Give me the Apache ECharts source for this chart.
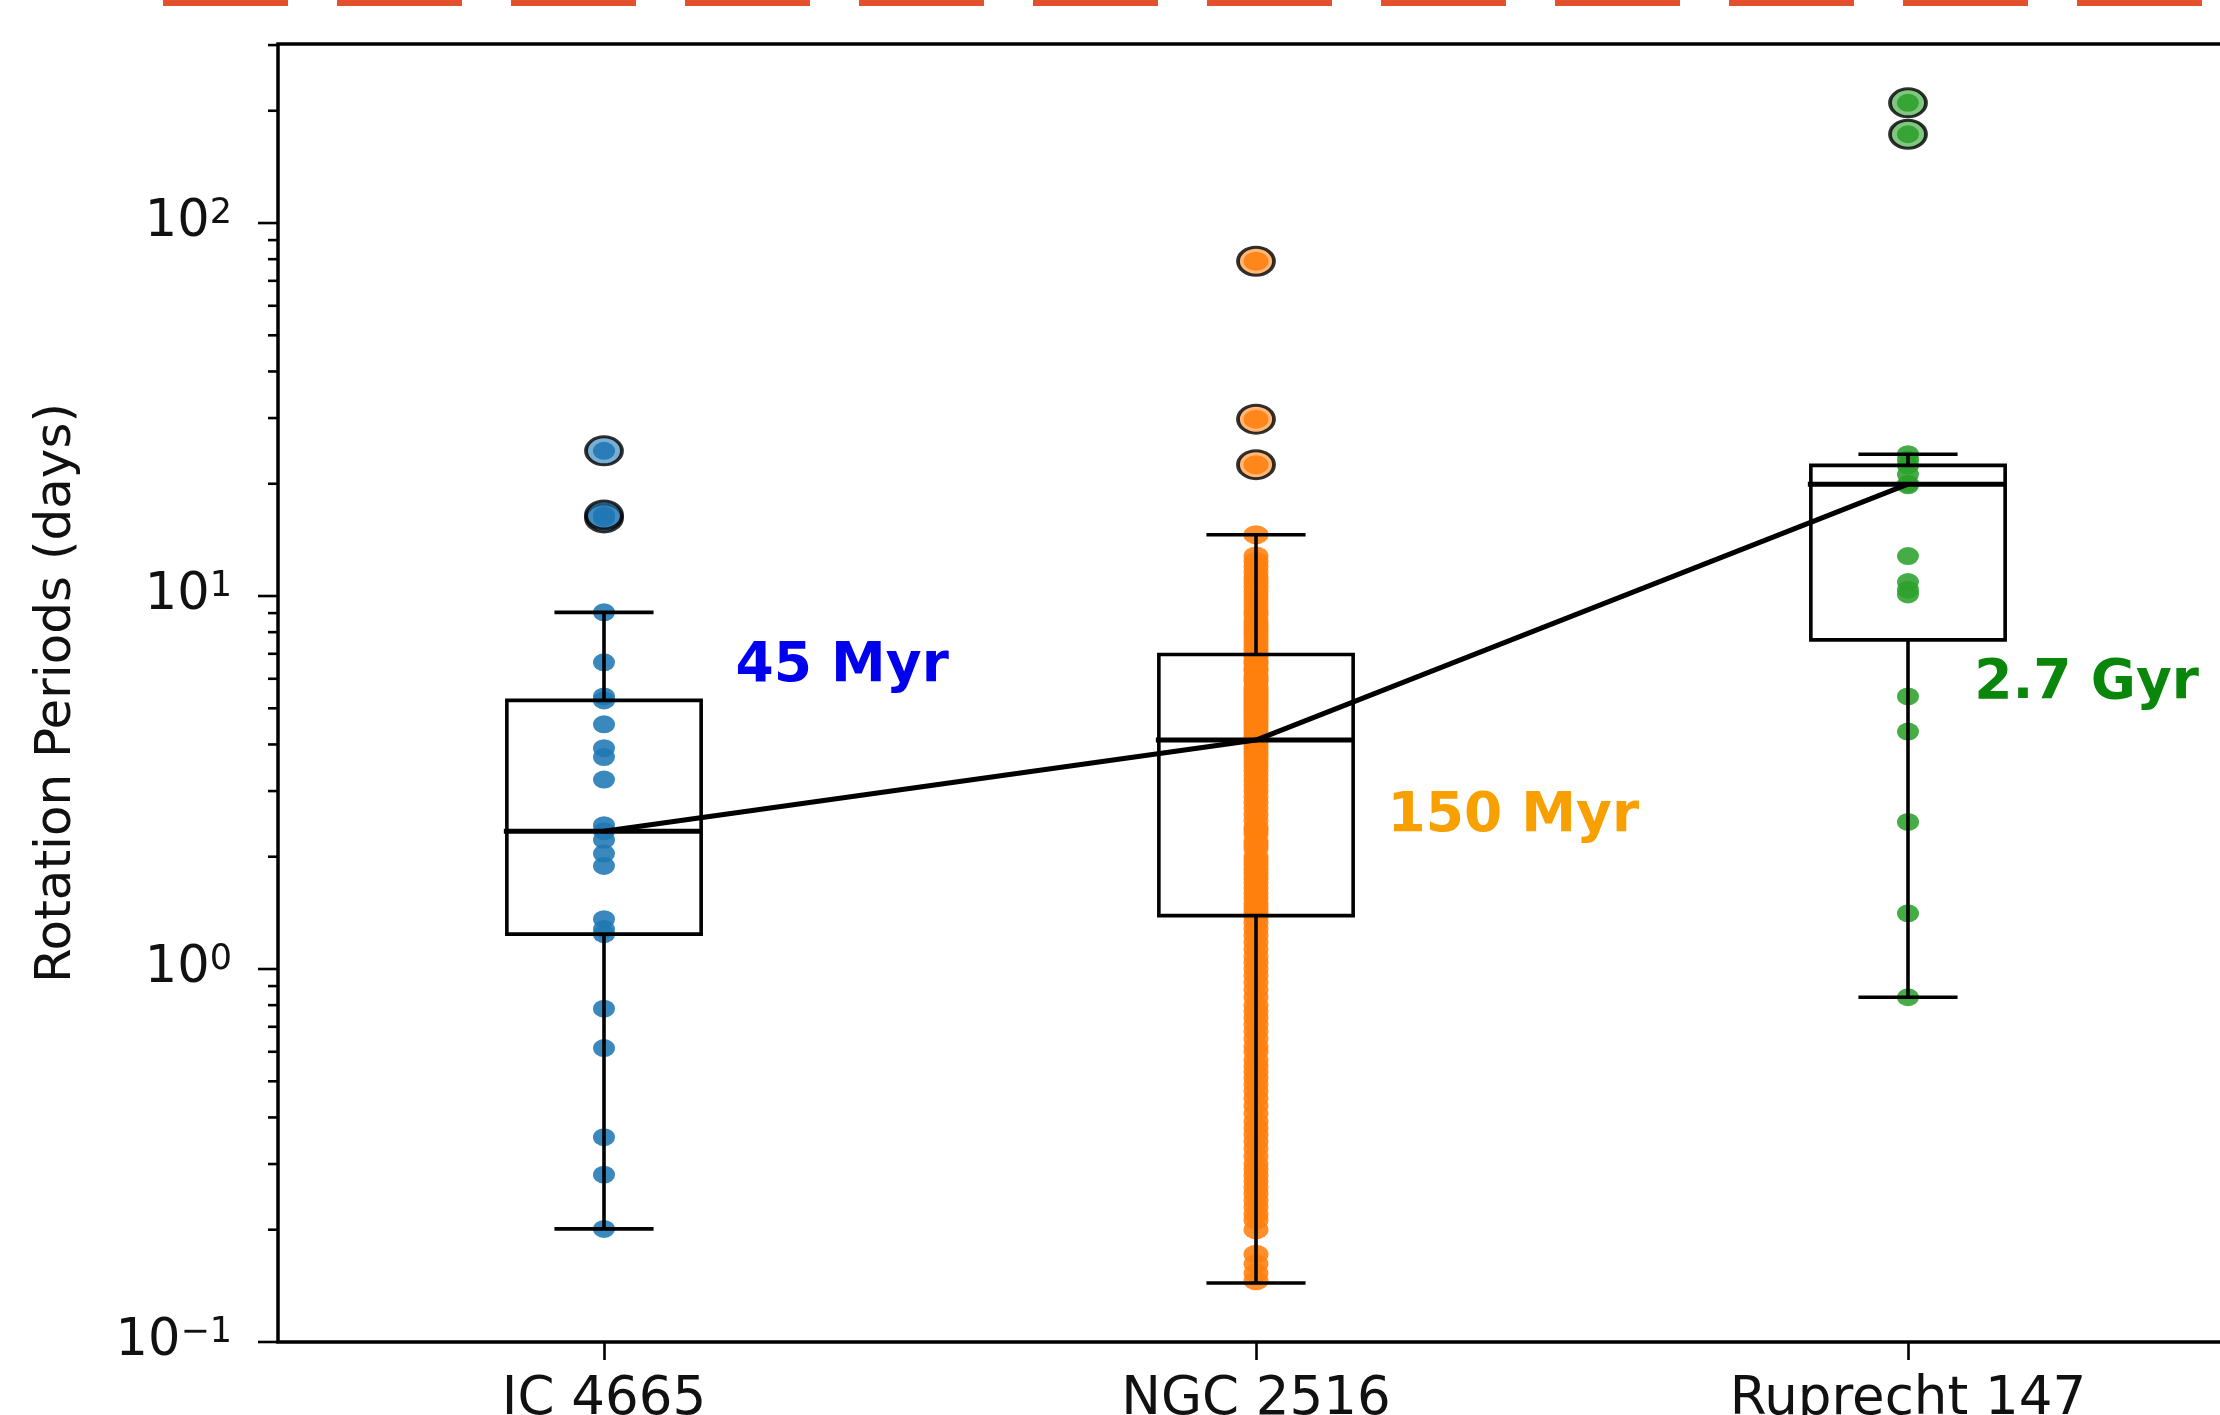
<!DOCTYPE html>
<html>
<head>
<meta charset="utf-8">
<title>Rotation periods</title>
<script src="https://cdn.jsdelivr.net/npm/echarts@6/dist/echarts.min.js"></script>
<style>
  html, body { margin: 0; padding: 0; background: #fff; }
  #chart { width: 2220px; height: 1415px; }
</style>
</head>
<body>
<div id="chart"></div>
<script>
const clusters = ['IC 4665', 'NGC 2516', 'Ruprecht 147']
const ages = ['45 Myr', '150 Myr', '2.7 Gyr']
const ageColors = ['#0000ee', '#f8a000', '#0a860a']
const dotColors = ['#1f77b4', '#ff7f0e', '#2ca02c']
const flierFill = ['rgba(31,119,180,0.75)', 'rgba(255,127,14,0.7)', 'rgba(44,160,44,0.75)']

// rotation periods (days)
const ic4665 = [24.5, 16.2, 16.5, 9.04, 6.64, 5.38, 5.25, 4.53, 3.91, 3.70, 3.22, 2.43, 2.34, 2.22,
  2.04, 1.89, 1.36, 1.28, 1.24, 0.783, 0.614, 0.354, 0.281, 0.201]
const ngc2516 = [79, 29.8, 22.5, 14.6, 12.8, 12.4, 12.0, 11.6, 11.2, 10.9, 10.6, 10.3, 10.0, 9.7, 9.4,
  9.1, 8.9, 8.6, 8.4, 8.2, 8.0, 7.8, 7.6, 7.4, 7.2, 7.0, 6.9, 6.7, 6.6, 6.4, 6.3, 6.1, 6.0, 5.9, 5.7,
  5.6, 5.5, 5.4, 5.3, 5.2, 5.1, 5.0, 4.9, 4.8, 4.7, 4.6, 4.5, 4.4, 4.3, 4.2, 4.1, 4.0, 3.9, 3.8, 3.7,
  3.6, 3.5, 3.4, 3.3, 3.2, 3.1, 3.0, 2.9, 2.8, 2.7, 2.6, 2.5, 2.4, 2.35, 2.3, 2.2, 2.15, 2.1, 2.0,
  1.95, 1.9, 1.85, 1.8, 1.75, 1.7, 1.65, 1.6, 1.55, 1.5, 1.46, 1.42, 1.38, 1.33, 1.28, 1.23, 1.18,
  1.13, 1.08, 1.04, 1.0, 0.96, 0.92, 0.88, 0.84, 0.8, 0.77, 0.74, 0.71, 0.68, 0.65, 0.62, 0.6, 0.57,
  0.55, 0.53, 0.51, 0.49, 0.47, 0.45, 0.43, 0.41, 0.39, 0.375, 0.36, 0.345, 0.33, 0.315, 0.3, 0.29,
  0.28, 0.27, 0.26, 0.25, 0.24, 0.23, 0.22, 0.212, 0.2, 0.172, 0.162, 0.153, 0.146]
const ruprecht147 = [210, 173, 24.0, 23.2, 22.4, 21.2, 20.0, 19.8, 12.8, 10.9, 10.4, 10.1, 5.38, 4.33,
  2.48, 1.41, 0.84]

// [lower whisker, Q1, median, Q3, upper whisker]
const boxStats = [
  [0.201, 1.24, 2.34, 5.25, 9.04],
  [0.144, 1.39, 4.11, 6.97, 14.6],
  [0.84, 7.63, 19.95, 22.4, 24.0]
]
const fliers = [
  [24.5, 16.2, 16.5],
  [79, 29.8, 22.5],
  [210, 173]
]
const medians = [2.34, 4.11, 19.95]
const agePos = [[1.2, 6.47], [2.2, 2.56], [3.1, 5.82]]

const yMajor = [0.1, 1, 10, 100]
const yMinor = [0.2, 0.3, 0.4, 0.5, 0.6, 0.7, 0.8, 0.9, 2, 3, 4, 5, 6, 7, 8, 9,
  20, 30, 40, 50, 60, 70, 80, 90, 200, 300]

const chart = echarts.init(document.getElementById('chart'))

const allDots = [ic4665, ngc2516, ruprecht147]

function boxItem(params, api) {
  const i = api.value(0)
  const x = api.coord([i, api.value(3)])[0]
  const band = api.coord([1, 1])[0] - api.coord([0, 1])[0]
  const half = band * 0.149
  const cap = band * 0.076
  const y = [1, 2, 3, 4, 5].map(d => api.coord([i, api.value(d)])[1])
  const ln = { stroke: '#000', lineWidth: 3.6 }
  return {
    type: 'group',
    children: [
      { type: 'rect', shape: { x: x - half, y: y[3], width: half * 2, height: y[1] - y[3] }, style: { fill: 'none', stroke: '#000', lineWidth: 3.6 } },
      { type: 'line', shape: { x1: x, y1: y[1], x2: x, y2: y[0] }, style: ln },
      { type: 'line', shape: { x1: x, y1: y[3], x2: x, y2: y[4] }, style: ln },
      { type: 'line', shape: { x1: x - cap, y1: y[0], x2: x + cap, y2: y[0] }, style: ln },
      { type: 'line', shape: { x1: x - cap, y1: y[4], x2: x + cap, y2: y[4] }, style: ln },
      { type: 'line', shape: { x1: x - half - 3, y1: y[2], x2: x + half + 1, y2: y[2] }, style: { stroke: '#000', lineWidth: 5 } }
    ]
  }
}

function tickItem(params, api) {
  const y = api.coord([0, api.value(1)])[1]
  const x0 = params.coordSys.x
  return {
    type: 'line',
    shape: { x1: x0 - api.value(2), y1: y, x2: x0, y2: y },
    style: { stroke: '#000', lineWidth: 2.6 }
  }
}

const series = []

allDots.forEach((list, i) => {
  series.push({
    type: 'scatter',
    z: 2,
    symbol: 'circle',
    symbolSize: i === 1 ? [25, 19] : [22, 18],
    itemStyle: { color: dotColors[i], opacity: 0.88 },
    data: list.map(v => [i, v])
  })
})

series.push({
  type: 'custom',
  z: 3,
  renderItem: boxItem,
  encode: { x: 0, y: [1, 2, 3, 4, 5] },
  data: boxStats.map((s, i) => [i].concat(s))
})

series.push({
  type: 'line',
  z: 4,
  symbol: 'none',
  lineStyle: { color: '#000', width: 5 },
  data: medians
})

fliers.forEach((list, i) => {
  series.push({
    type: 'scatter',
    z: 5,
    symbol: 'circle',
    symbolSize: [36, 28],
    itemStyle: { color: flierFill[i], borderColor: '#000', borderWidth: 3.4 },
    data: list.map(v => [i, v])
  })
})

series.push({
  type: 'custom',
  z: 6,
  renderItem: tickItem,
  encode: { x: 0, y: 1 },
  data: yMajor.map(v => [0, v, 20]).concat(yMinor.map(v => [0, v, 10]))
})

series.push({
  type: 'scatter',
  xAxisIndex: 1,
  z: 7,
  symbolSize: 2,
  itemStyle: { color: 'rgba(0,0,0,0)', opacity: 1 },
  label: {
    show: true,
    position: 'right',
    distance: 0,
    opacity: 1,
    textBorderWidth: 0,
    fontFamily: 'DejaVu Sans',
    fontWeight: 'bold',
    fontSize: 55
  },
  data: agePos.map((p, i) => ({
    value: p,
    label: { color: ageColors[i], formatter: ages[i] }
  }))
})

const option = {
  animation: false,
  backgroundColor: '#fff',
  textStyle: { fontFamily: 'DejaVu Sans' },
  // stray red dashed edge along the top of the figure
  graphic: [{
    type: 'line',
    shape: { x1: 163, y1: 3, x2: 2220, y2: 3 },
    style: { stroke: '#e2502e', lineWidth: 6, lineDash: [125, 49] }
  }],
  grid: {
    left: 278,
    top: 44,
    right: -14,
    bottom: 73,
    show: true,
    borderColor: '#000',
    borderWidth: 3.5,
    containLabel: false,
    outerBoundsMode: 'none'
  },
  xAxis: [{
    type: 'category',
    data: clusters,
    boundaryGap: true,
    axisLine: { show: false },
    axisTick: { show: true, alignWithLabel: true, length: 18, lineStyle: { color: '#000', width: 2.6 } },
    axisLabel: { color: '#111', fontSize: 53, margin: 32, fontFamily: 'DejaVu Sans' },
    splitLine: { show: false }
  }, {
    type: 'value',
    min: 0.5,
    max: 3.5,
    show: false
  }],
  yAxis: {
    type: 'log',
    logBase: 10,
    min: 0.1,
    max: 302,
    name: 'Rotation Periods (days)',
    nameLocation: 'middle',
    nameGap: 196,
    nameTextStyle: { color: '#111', fontSize: 50, fontFamily: 'DejaVu Sans' },
    axisLine: { show: false },
    axisTick: { show: false },
    splitLine: { show: false },
    axisLabel: {
      margin: 46,
      color: '#111',
      formatter: function (v) {
        const l = Math.log10(v)
        const e = Math.round(l)
        if (Math.abs(l - e) > 1e-6) return ''
        return '{b|10}{s|' + (e < 0 ? '\u2212' + (-e) : e) + '}'
      },
      rich: {
        b: { fontSize: 51, lineHeight: 54, color: '#111', fontFamily: 'DejaVu Sans' },
        s: { fontSize: 35, lineHeight: 32, verticalAlign: 'top', color: '#111', fontFamily: 'DejaVu Sans' }
      }
    }
  },
  series: series
}

chart.setOption(option)
</script>
</body>
</html>
